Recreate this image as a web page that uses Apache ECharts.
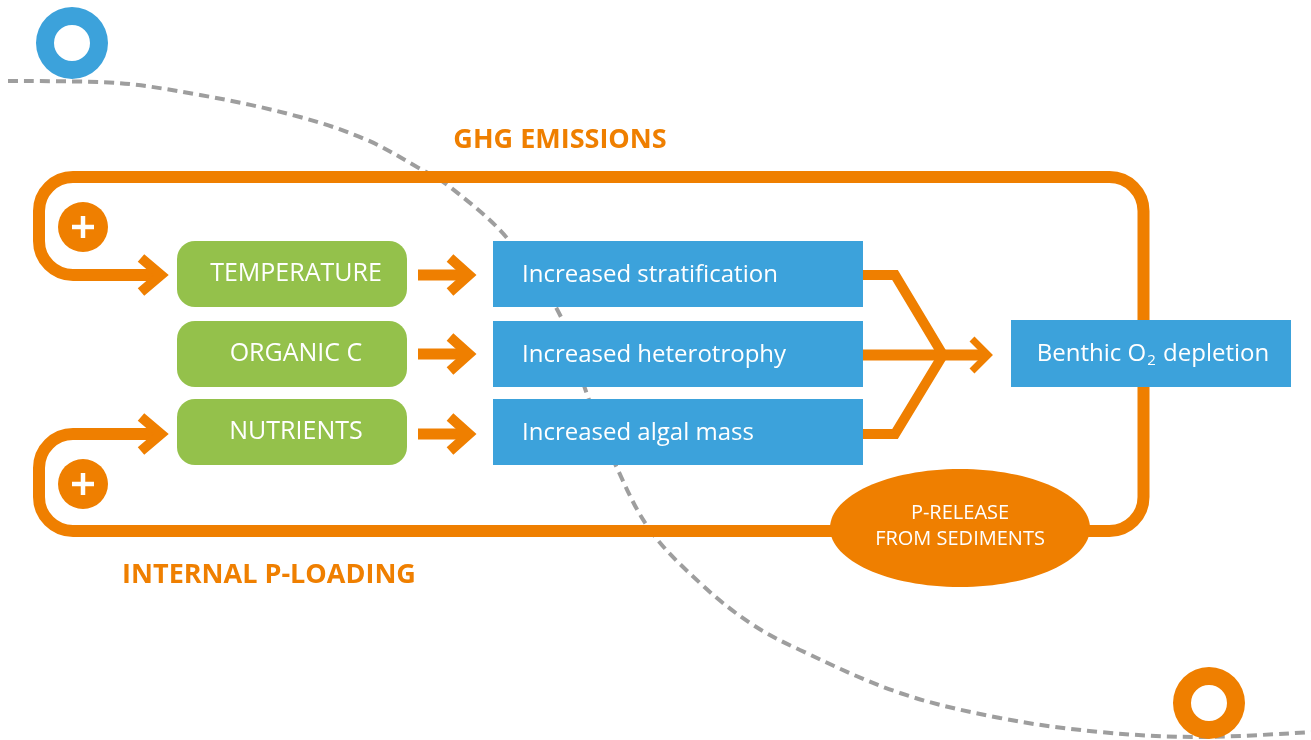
<!DOCTYPE html>
<html>
<head>
<meta charset="utf-8">
<title>benthic-o2-loops</title>
<style>html,body{margin:0;padding:0;background:#fff}#chart{width:1311px;height:740px}</style>
</head>
<body>
<div id="chart"></div>
<script src="https://cdn.jsdelivr.net/npm/echarts@6/dist/echarts.min.js"></script>
<script>
// labels
const drivers = ['TEMPERATURE', 'ORGANIC C', 'NUTRIENTS'];
const processes = ['Increased stratification', 'Increased heterotrophy', 'Increased algal mass'];
const outcome = 'Benthic O{sub|2} depletion';
const source = ['P-RELEASE', 'FROM SEDIMENTS'];
const loopNames = ['GHG EMISSIONS', 'INTERNAL P-LOADING'];
// dashed divider, points (x, y in picture px)
const dividerX = [8, 100, 200, 300, 367, 417, 450, 507, 560, 588, 617, 650, 700, 750, 800, 900, 1000, 1100, 1200, 1311];
const dividerY = [81, 82, 95, 117, 140, 167, 187, 238, 315, 397, 468, 530, 583, 623, 650, 693, 718, 732, 737, 732];

// layout, picture px
const orange = '#ef7f00', blue = '#3ca2db', green = '#94c14b', grey = '#9e9e9e';
const font = '"Open Sans"';
const driverCol = [177, 407];
const processCol = [493, 863];
const rows = [[241, 307], [321, 387], [399, 465]];
const arrowY = [275, 354, 434];
const outcomeBox = [1011, 320, 1291, 387];
const ellipse = { cx: 960, cy: 528, rx: 130, ry: 59 };
const loopX = [39, 1143.5], loopTopY = 177, loopBotY = 531;

function roundedPath(pts, r) {
    let d = 'M' + pts[0][0] + ' ' + pts[0][1];
    const k = 0.5523;
    for (let i = 1; i < pts.length - 1; i++) {
        const [px, py] = pts[i - 1], [cx, cy] = pts[i], [nx, ny] = pts[i + 1];
        const l1 = Math.hypot(cx - px, cy - py), l2 = Math.hypot(nx - cx, ny - cy);
        const a = [cx - (cx - px) * r / l1, cy - (cy - py) * r / l1];
        const b = [cx + (nx - cx) * r / l2, cy + (ny - cy) * r / l2];
        d += ' L' + a[0] + ' ' + a[1];
        d += ' C' + (a[0] + (cx - a[0]) * k) + ' ' + (a[1] + (cy - a[1]) * k) + ' '
            + (b[0] + (cx - b[0]) * k) + ' ' + (b[1] + (cy - b[1]) * k) + ' ' + b[0] + ' ' + b[1];
    }
    const last = pts[pts.length - 1];
    return d + ' L' + last[0] + ' ' + last[1];
}

function chevron(api, tip, y, dx, dy, w) {
    return {
        type: 'polyline',
        shape: { points: [[tip - dx, y - dy], [tip, y], [tip - dx, y + dy]].map(p => api.coord(p)) },
        style: { stroke: orange, lineWidth: w, fill: null, lineJoin: 'miter', lineCap: 'butt' }
    };
}

function shaft(api, pts, w) {
    return {
        type: 'polyline',
        shape: { points: pts.map(p => api.coord(p)) },
        style: { stroke: orange, lineWidth: w, fill: null, lineJoin: 'miter' }
    };
}

function renderLoops(params, api) {
    const [xl, xr] = loopX;
    const top = [[ellipse.cx + 100, loopBotY], [xr, loopBotY], [xr, loopTopY], [xl, loopTopY], [xl, arrowY[0]], [156, arrowY[0]]];
    const bot = [[ellipse.cx - 100, loopBotY], [xl, loopBotY], [xl, arrowY[2]], [156, arrowY[2]]];
    const path = pts => ({
        type: 'path',
        shape: { pathData: roundedPath(pts.map(p => api.coord(p)), 34) },
        style: { stroke: orange, lineWidth: 12, fill: null }
    });
    const kids = [path(top), path(bot), chevron(api, 161, arrowY[0], 20, 17, 10), chevron(api, 161, arrowY[2], 20, 17, 10)];
    // driver -> process arrows
    arrowY.forEach(y => {
        kids.push(shaft(api, [[418, y], [465, y]], 11));
        kids.push(chevron(api, 469, y, 19, 17, 10));
    });
    // processes merge into the outcome
    kids.push(shaft(api, [[processCol[1], arrowY[0]], [895, arrowY[0]], [943, 355]], 10));
    kids.push(shaft(api, [[processCol[1], arrowY[2]], [895, arrowY[2]], [943, 355]], 10));
    kids.push(shaft(api, [[processCol[1], 355], [985, 355]], 11));
    kids.push(chevron(api, 988, 355, 16, 16, 7));
    // titles of the loops
    const t1 = api.coord([560, 140]), t2 = api.coord([269, 575]);
    kids.push({ type: 'text', style: { x: t1[0], y: t1[1], text: loopNames[0], fill: orange, font: 'bold 27px ' + font, align: 'center', verticalAlign: 'middle' } });
    kids.push({ type: 'text', style: { x: t2[0], y: t2[1], text: loopNames[1], fill: orange, font: 'bold 27px ' + font, align: 'center', verticalAlign: 'middle' } });
    return { type: 'group', children: kids };
}

function boxRenderer(col, fill, r, textConfig, fontSize) {
    return function (params, api) {
        const i = params.dataIndex;
        const p0 = api.coord([col[0], rows[i][0]]), p1 = api.coord([col[1], rows[i][1]]);
        return {
            type: 'rect',
            shape: { x: p0[0], y: p0[1], width: p1[0] - p0[0], height: p1[1] - p0[1], r: r },
            style: { fill: fill },
            textContent: { style: { text: api.value(2), fill: '#fff', fontSize: fontSize, fontFamily: font } },
            textConfig: textConfig
        };
    };
}

function renderOutcome(params, api) {
    const p0 = api.coord([outcomeBox[0], outcomeBox[1]]), p1 = api.coord([outcomeBox[2], outcomeBox[3]]);
    return {
        type: 'rect',
        shape: { x: p0[0], y: p0[1], width: p1[0] - p0[0], height: p1[1] - p0[1] },
        style: { fill: blue },
        textContent: {
            style: {
                text: outcome, fill: '#fff', fontSize: 24, fontFamily: font,
                rich: { sub: { fontSize: 15, fontFamily: font, fill: '#fff', padding: [12, 1, 0, 1] } }
            }
        },
        textConfig: { position: 'inside', offset: [2, 1] }
    };
}

function renderSource(params, api) {
    const c = api.coord([ellipse.cx, ellipse.cy]);
    const s = api.size([ellipse.rx, ellipse.ry]);
    return {
        type: 'ellipse',
        shape: { cx: c[0], cy: c[1], rx: s[0], ry: s[1] },
        style: { fill: orange },
        textContent: { style: { text: source.join('\n'), fill: '#fff', fontSize: 20, fontFamily: font, align: 'center', lineHeight: 26 } },
        textConfig: { position: 'inside', offset: [0, -2] }
    };
}

function renderMarkers(params, api) {
    const kids = [];
    [[72, 43, blue], [1209, 703, orange]].forEach(([x, y, c]) => {
        const p = api.coord([x, y]);
        kids.push({ type: 'ring', shape: { cx: p[0], cy: p[1], r: 36, r0: 18 }, style: { fill: c } });
    });
    [227, 484].forEach(y => {
        const p = api.coord([83, y]);
        kids.push({ type: 'circle', shape: { cx: p[0], cy: p[1], r: 25 }, style: { fill: orange } });
        kids.push({ type: 'line', shape: { x1: p[0] - 11, y1: p[1], x2: p[0] + 11, y2: p[1] }, style: { stroke: '#fff', lineWidth: 4.5 } });
        kids.push({ type: 'line', shape: { x1: p[0], y1: p[1] - 11, x2: p[0], y2: p[1] + 11 }, style: { stroke: '#fff', lineWidth: 4.5 } });
    });
    return { type: 'group', children: kids };
}

const chart = echarts.init(document.getElementById('chart'));
chart.setOption({
    animation: false,
    backgroundColor: '#fff',
    grid: { left: 0, right: 0, top: 0, bottom: 0 },
    xAxis: { type: 'value', min: 0, max: 1311, show: false },
    yAxis: { type: 'value', min: 0, max: 740, inverse: true, show: false },
    series: [
        {
            type: 'line', z: 1, silent: true, symbol: 'none', smooth: 0.35,
            data: dividerX.map((x, i) => [x, dividerY[i]]),
            lineStyle: { color: grey, width: 4, type: [10, 6] }
        },
        { type: 'custom', z: 2, silent: true, data: [[0, 0]], renderItem: renderLoops },
        {
            type: 'custom', z: 3, silent: true,
            data: drivers.map((d, i) => [0, 0, d]),
            renderItem: boxRenderer(driverCol, green, 18, { position: 'inside', offset: [4, 0] }, 25)
        },
        {
            type: 'custom', z: 3, silent: true,
            data: processes.map((d, i) => [0, 0, d]),
            renderItem: boxRenderer(processCol, blue, 0, { position: 'insideLeft', distance: 29, offset: [0, 1] }, 24)
        },
        { type: 'custom', z: 3, silent: true, data: [[0, 0]], renderItem: renderOutcome },
        { type: 'custom', z: 3, silent: true, data: [[0, 0]], renderItem: renderSource },
        { type: 'custom', z: 4, silent: true, data: [[0, 0]], renderItem: renderMarkers }
    ]
});
</script>
</body>
</html>
